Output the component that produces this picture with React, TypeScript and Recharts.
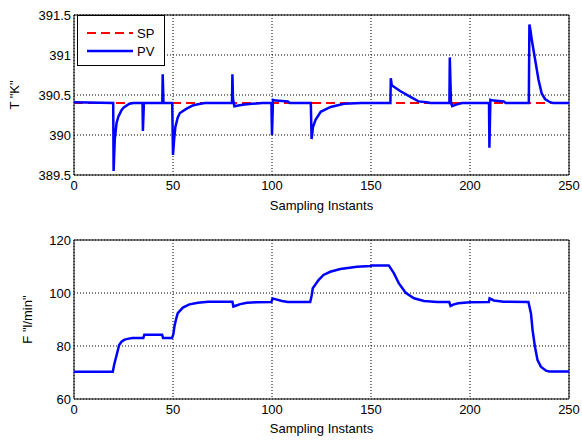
import { LineChart, Line, XAxis, YAxis, CartesianGrid, ReferenceArea, Legend, Label } from 'recharts';

// sampling instants (fractional where the trace jumps within one sample)
const tempTime = [0, 19.8, 20, 20.6, 21.5, 22.4, 24, 25, 28, 30, 34.6, 34.8, 35.3, 44.6, 44.8, 45.2, 49.6, 50, 50.6, 51.2, 52.4, 53.5, 56.9, 60, 62, 66, 79.8, 80, 80.3, 81, 83, 86, 90, 95, 99.7, 100, 100.5, 102, 108, 109, 119.6, 120, 120.7, 122, 124.6, 129.6, 136.4, 145, 159.8, 160, 160.5, 164.7, 169.7, 174, 178, 180, 189.6, 189.8, 190.4, 191, 193, 196, 209.6, 209.8, 210.3, 212, 217, 218, 229.7, 230, 230.6, 231.2, 232.9, 234.6, 236.2, 237.9, 240.4, 242, 250];
const tempPV = [390.41, 390.4, 389.55, 389.95, 390.15, 390.23, 390.31, 390.34, 390.39, 390.4, 390.4, 390.05, 390.4, 390.4, 390.76, 390.4, 390.4, 389.75, 389.95, 390.1, 390.22, 390.275, 390.33, 390.37, 390.38, 390.4, 390.4, 390.76, 390.45, 390.36, 390.37, 390.38, 390.39, 390.4, 390.4, 390.0, 390.44, 390.43, 390.42, 390.4, 390.4, 389.95, 390.1, 390.19, 390.29, 390.35, 390.39, 390.4, 390.4, 390.71, 390.62, 390.55, 390.48, 390.42, 390.41, 390.4, 390.4, 390.97, 390.4, 390.36, 390.38, 390.4, 390.4, 389.84, 390.44, 390.43, 390.42, 390.4, 390.4, 391.38, 391.3, 391.19, 390.94, 390.69, 390.52, 390.45, 390.41, 390.4, 390.4];
const setPoint = 390.4;

const flowTime = [0, 19.6, 20.3, 21.5, 22.8, 24, 25.3, 27, 29.5, 35, 35.5, 44.5, 45, 49.5, 50.2, 50.7, 51.5, 52.4, 55, 58.3, 62.6, 67.7, 80, 80.5, 82, 84, 87.4, 92, 99.7, 100.3, 102, 105, 108, 119.3, 120, 120.6, 123.5, 126, 129.4, 134.5, 142.9, 149.7, 150.5, 159, 161.6, 164.1, 167.5, 171.7, 176.8, 183.5, 189.5, 190.2, 191.5, 194, 200, 209.5, 209.9, 212, 217, 229.5, 230.8, 231.6, 232.8, 234.1, 235.8, 238.4, 240, 250];
const flowPV = [70.3, 70.3, 73, 76.5, 80.4, 81.6, 82.3, 82.7, 83, 83, 84.2, 84.2, 83, 83, 84.5, 87.3, 90, 92.4, 94.5, 95.7, 96.3, 96.7, 96.7, 94.9, 95.3, 95.8, 96.3, 96.5, 96.6, 97.9, 97.6, 97.0, 96.6, 96.6, 99, 101.8, 104.9, 106.8, 108, 109.05, 109.9, 110.2, 110.4, 110.4, 107.4, 103.6, 100.1, 98, 97, 96.6, 96.6, 95.1, 95.6, 96.1, 96.5, 96.6, 98, 97.2, 96.7, 96.6, 92.3, 86, 79.7, 74.7, 72.2, 70.7, 70.4, 70.4];

const xTicks = [0, 50, 100, 150, 200, 250];
const tempTicks = [389.5, 390, 390.5, 391, 391.5];
const flowTicks = [60, 80, 100, 120];

const tempData = tempTime.map((t, i) => ({ t, pv: tempPV[i], sp: setPoint }));
const flowData = flowTime.map((t, i) => ({ t, pv: flowPV[i] }));

const FONT = '"Liberation Sans", Arial, sans-serif';
const tickStyle = { fill: '#000', fontSize: 13, fontFamily: FONT };

const xTitle = (text: string, dy: number) => (props: any) => {
  const vb = props.viewBox;
  return (
    <text x={vb.x + vb.width / 2} y={vb.y + dy} textAnchor="middle" fontSize={13} fill="#000" fontFamily={FONT}>
      {text}
    </text>
  );
};

const yTitle = (text: string, cx: number) => (props: any) => {
  const vb = props.viewBox;
  const cy = vb.y + vb.height / 2;
  return (
    <text x={cx} y={cy} transform={`rotate(-90 ${cx} ${cy})`} textAnchor="middle" dominantBaseline="central" fontSize={13} fill="#000" fontFamily={FONT}>
      {text}
    </text>
  );
};

const LegendBox = () => (
  <div style={{ width: 88, height: 51, border: '1.5px solid #000', background: '#fff', boxSizing: 'border-box' }}>
    <svg width={85} height={48}>
      <line x1={9} x2={55} y1={17} y2={17} stroke="#ff0000" strokeWidth={2} strokeDasharray="9 5" />
      <text x={59} y={17} dominantBaseline="central" fontSize={13} fontFamily={FONT} fill="#000">SP</text>
      <line x1={9} x2={55} y1={35} y2={35} stroke="#0000ff" strokeWidth={2.5} />
      <text x={59} y={35} dominantBaseline="central" fontSize={13} fontFamily={FONT} fill="#000">PV</text>
    </svg>
  </div>
);

export default function App() {
  return (
    <div style={{ position: 'absolute', left: 0, top: 0, width: 582, height: 441, background: '#fff', fontFamily: FONT }}>
      <LineChart width={582} height={220} data={tempData} margin={{ top: 15, right: 13, bottom: 0, left: 0 }}>
        <CartesianGrid stroke="#000" strokeDasharray="1 2" />
        <XAxis dataKey="t" type="number" domain={[0, 250]} ticks={xTicks} height={45} axisLine={false} tickLine={false} tickSize={4} tickMargin={2} tick={tickStyle}>
          <Label content={xTitle('Sampling Instants', 35)} />
        </XAxis>
        <YAxis type="number" domain={[389.5, 391.5]} ticks={tempTicks} width={74} axisLine={false} tickLine={false} tickSize={2} tickMargin={1} tick={tickStyle}>
          <Label content={yTitle('T "K"', 14)} />
        </YAxis>
        <ReferenceArea x1={0} x2={250} y1={389.5} y2={391.5} fill="none" stroke="#000" strokeWidth={1} />
        <Line dataKey="sp" name="SP" stroke="#ff0000" strokeWidth={2} strokeDasharray="9 5" dot={false} isAnimationActive={false} />
        <Line dataKey="pv" name="PV" stroke="#0000ff" strokeWidth={2.5} dot={false} isAnimationActive={false} />
        <Legend layout="vertical" align="center" verticalAlign="middle" content={() => <LegendBox />} wrapperStyle={{ position: 'absolute', left: 77, top: 15, width: 88 }} />
      </LineChart>
      <LineChart width={582} height={221} data={flowData} margin={{ top: 20, right: 13, bottom: 0, left: 0 }}>
        <CartesianGrid stroke="#000" strokeDasharray="1 2" />
        <XAxis dataKey="t" type="number" domain={[0, 250]} ticks={xTicks} height={42} axisLine={false} tickLine={false} tickSize={4} tickMargin={2} tick={tickStyle}>
          <Label content={xTitle('Sampling Instants', 34)} />
        </XAxis>
        <YAxis type="number" domain={[60, 120]} ticks={flowTicks} width={74} axisLine={false} tickLine={false} tickSize={2} tickMargin={1} tick={tickStyle}>
          <Label content={yTitle('F "l/min"', 27)} />
        </YAxis>
        <ReferenceArea x1={0} x2={250} y1={60} y2={120} fill="none" stroke="#000" strokeWidth={1} />
        <Line dataKey="pv" stroke="#0000ff" strokeWidth={2.5} dot={false} isAnimationActive={false} />
      </LineChart>
    </div>
  );
}
